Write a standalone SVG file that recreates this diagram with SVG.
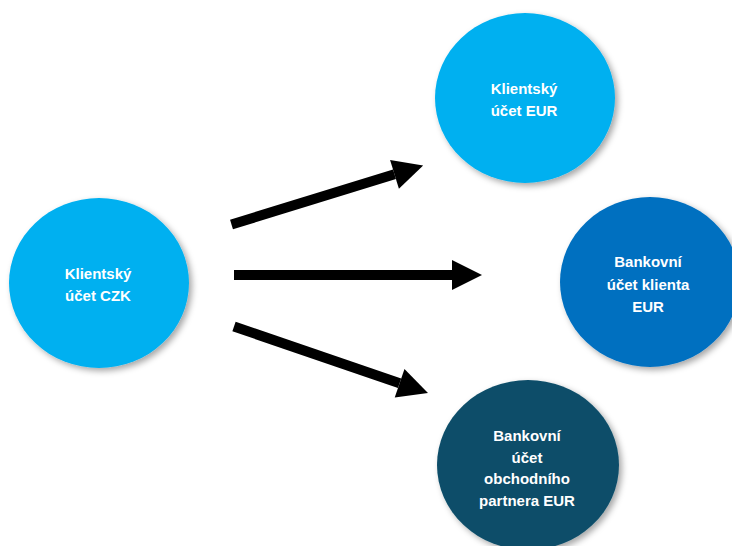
<svg xmlns="http://www.w3.org/2000/svg" width="732" height="546" viewBox="0 0 732 546">
<defs>
<filter id="sh" x="-20%" y="-20%" width="140%" height="140%">
<feDropShadow dx="3" dy="3" stdDeviation="3" flood-color="#000" flood-opacity="0.35"/>
</filter>
<marker id="ah" markerUnits="strokeWidth" markerWidth="3" markerHeight="3" refX="0" refY="1.5" orient="auto" overflow="visible">
<path d="M0,0 L3,1.5 L0,3 z" fill="#000"/>
</marker>
<style>
.node{filter:url(#sh)}
.lbl{font-family:"Liberation Sans",Arial,sans-serif;font-weight:bold;font-size:15px;fill:#fff;text-anchor:middle}
.arr{stroke:#000;stroke-width:10;fill:none;stroke-linecap:butt;marker-end:url(#ah)}
</style>
</defs>
<rect width="732" height="546" fill="#fff"/>
<g id="connectors">
<path class="arr" d="M231.5,224.5 L394.5,174.3"/>
<path class="arr" d="M234,275 L452,275"/>
<path class="arr" d="M234,326.5 L399.6,383.3"/>
</g>
<g id="n-czk">
<ellipse class="node" cx="99" cy="283" rx="90" ry="85" fill="#00B0F0"/>
<text class="lbl" x="98" y="279">Klientský</text>
<text class="lbl" x="98" y="300.5">účet CZK</text>
</g>
<g id="n-eur">
<ellipse class="node" cx="525" cy="98" rx="90" ry="85" fill="#00B0F0"/>
<text class="lbl" x="524" y="93.5">Klientský</text>
<text class="lbl" x="524" y="115.5">účet EUR</text>
</g>
<g id="n-bank-klient">
<ellipse class="node" cx="650" cy="282" rx="90" ry="85" fill="#0070C0"/>
<text class="lbl" x="648" y="267">Bankovní</text>
<text class="lbl" x="648" y="289.5">účet klienta</text>
<text class="lbl" x="648" y="312">EUR</text>
</g>
<g id="n-bank-partner">
<ellipse class="node" cx="528" cy="465" rx="91" ry="85" fill="#0C4E69"/>
<text class="lbl" x="527" y="441">Bankovní</text>
<text class="lbl" x="527" y="462.5">účet</text>
<text class="lbl" x="527" y="484">obchodního</text>
<text class="lbl" x="527" y="505.5">partnera EUR</text>
</g>
</svg>
